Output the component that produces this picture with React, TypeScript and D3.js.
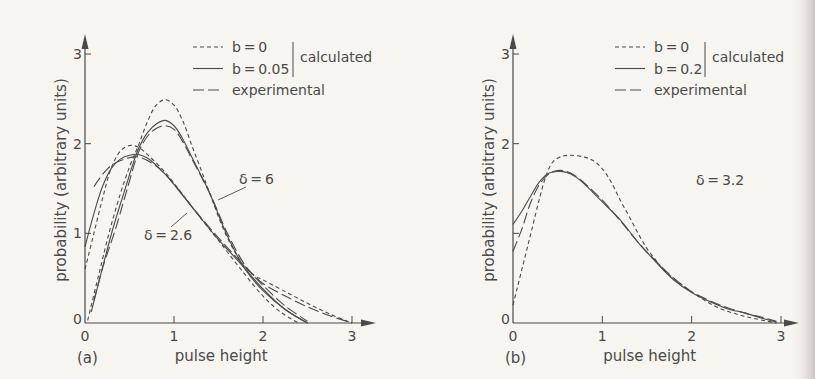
import * as d3 from 'd3'

type Pt = [number, number]

// panel (a): delta = 2.6
const a26B0: Pt[] = [[0, 0.6], [0.1, 1.0], [0.2, 1.4], [0.3, 1.74], [0.4, 1.92], [0.5, 1.98], [0.6, 1.96], [0.7, 1.88], [0.9, 1.68], [1.1, 1.43], [1.3, 1.17], [1.5, 0.92], [1.75, 0.6], [2.0, 0.3], [2.2, 0.12], [2.4, 0.0]]
const a26B005: Pt[] = [[0, 0.85], [0.1, 1.22], [0.2, 1.53], [0.3, 1.73], [0.4, 1.83], [0.5, 1.87], [0.6, 1.88], [0.7, 1.84], [0.9, 1.66], [1.1, 1.42], [1.3, 1.17], [1.5, 0.93], [1.75, 0.66], [2.0, 0.38], [2.25, 0.15], [2.5, 0.0]]
const a26Exp: Pt[] = [[0.1, 1.52], [0.2, 1.66], [0.3, 1.76], [0.45, 1.83], [0.6, 1.85], [0.8, 1.75], [1.0, 1.55], [1.2, 1.3], [1.5, 0.95], [1.75, 0.68], [2.0, 0.42], [2.25, 0.19], [2.5, 0.02]]
// panel (a): delta = 6
const a6B0: Pt[] = [[0.03, 0.03], [0.15, 0.52], [0.28, 1.04], [0.4, 1.45], [0.5, 1.74], [0.6, 1.98], [0.7, 2.24], [0.8, 2.43], [0.9, 2.49], [1.0, 2.43], [1.1, 2.25], [1.2, 1.98], [1.3, 1.72], [1.4, 1.45], [1.6, 0.95], [1.8, 0.62], [1.9, 0.53], [2.0, 0.48], [2.25, 0.35], [2.5, 0.22], [2.75, 0.1], [3.0, 0.0]]
const a6B005: Pt[] = [[0.07, 0.12], [0.31, 1.04], [0.44, 1.46], [0.6, 1.94], [0.7, 2.12], [0.8, 2.22], [0.9, 2.26], [1.0, 2.2], [1.1, 2.05], [1.2, 1.85], [1.4, 1.45], [1.6, 0.97], [1.8, 0.6], [2.0, 0.36], [2.25, 0.15], [2.5, 0.0]]
const a6Exp: Pt[] = [[0.1, 0.25], [0.2, 0.62], [0.34, 1.04], [0.47, 1.48], [0.6, 1.9], [0.7, 2.08], [0.8, 2.17], [0.9, 2.2], [1.0, 2.16], [1.1, 2.02], [1.2, 1.83], [1.4, 1.45], [1.6, 1.0], [1.8, 0.64], [1.88, 0.55], [2.0, 0.44], [2.25, 0.3], [2.5, 0.18], [2.75, 0.08], [3.0, 0.0]]
// panel (b): delta = 3.2
const bB0: Pt[] = [[0, 0.2], [0.1, 0.6], [0.2, 1.0], [0.3, 1.4], [0.38, 1.67], [0.45, 1.8], [0.55, 1.86], [0.65, 1.87], [0.8, 1.85], [0.9, 1.81], [1.0, 1.72], [1.1, 1.57], [1.2, 1.37], [1.3, 1.19], [1.4, 1.0], [1.5, 0.83], [1.6, 0.7], [1.7, 0.58], [1.9, 0.42], [2.1, 0.28], [2.3, 0.17], [2.5, 0.1], [2.7, 0.05], [2.95, 0.0]]
const bB02: Pt[] = [[0, 1.1], [0.1, 1.25], [0.2, 1.42], [0.3, 1.58], [0.4, 1.67], [0.5, 1.69], [0.6, 1.68], [0.7, 1.63], [0.8, 1.55], [0.9, 1.45], [1.0, 1.35], [1.2, 1.15], [1.4, 0.9], [1.6, 0.68], [1.8, 0.48], [2.0, 0.34], [2.2, 0.24], [2.4, 0.16], [2.6, 0.11], [2.8, 0.05], [2.95, 0.01]]
const bExp: Pt[] = [[0, 0.8], [0.1, 1.05], [0.2, 1.35], [0.3, 1.55], [0.4, 1.66], [0.5, 1.7], [0.6, 1.69], [0.7, 1.64], [1.0, 1.37], [1.2, 1.14], [1.4, 0.9], [1.6, 0.69], [1.8, 0.5], [2.0, 0.35], [2.2, 0.25], [2.4, 0.17], [2.6, 0.11], [2.8, 0.06], [2.95, 0.02]]

const xTicks = [0, 1, 2, 3]
const yTicks = [0, 1, 2, 3]
const yTickLabelsA = ['0', '1', '2', '3']
const yTickLabelsB = ['0', '', '2', '3']

const INK = '#4a4a4a'
const FONT = 'DejaVu Sans'
const SHORT = '4,3'
const LONG = '11,4'

interface Curve { pts: Pt[]; dash: string | null }

interface PanelProps {
  x0: number
  x3: number
  arrowX: number
  curves: Curve[]
  tickLabels: string[]
  tag: string
  legendB: string
  legendX: number
  barX: number
  delta: { text: string; x: number; y: number; lead?: [number, number, number, number] }[]
}

function Panel({ x0, x3, arrowX, curves, tickLabels, tag, legendB, legendX, barX, delta }: PanelProps) {
  const x = d3.scaleLinear().domain([0, 3]).range([x0, x3])
  const y = d3.scaleLinear().domain([0, 3]).range([323, 54])
  const line = d3.line<Pt>().x(d => x(d[0])).y(d => y(d[1])).curve(d3.curveCatmullRom.alpha(0.5))
  const lx = legendX
  const legendRows: { dash: string | null; label: string }[] = [
    { dash: SHORT, label: 'b\u2009=\u20090' },
    { dash: null, label: legendB },
    { dash: LONG, label: 'experimental' },
  ]
  return (
    <g fontFamily={FONT} fill={INK}>
      {/* axes */}
      <line x1={x0} x2={x0} y1={323} y2={44} stroke={INK} strokeWidth={1.2} />
      <path d={`M${x0},34 L${x0 - 3.5},49 L${x0 + 3.5},49 Z`} fill={INK} />
      <line x1={x0} x2={arrowX - 10} y1={323} y2={323} stroke={INK} strokeWidth={1.2} />
      <path d={`M${arrowX},323 L${arrowX - 15},319.5 L${arrowX - 15},326.5 Z`} fill={INK} />
      {yTicks.map((t, i) => (
        <g key={`y${t}`}>
          {t > 0 && <line x1={x0} x2={x0 + 6} y1={y(t)} y2={y(t)} stroke={INK} strokeWidth={1} />}
          <text x={x0 - 3} y={y(t) + (t === 0 ? 1 : 5)} fontSize={14} textAnchor="end">{tickLabels[i]}</text>
        </g>
      ))}
      {xTicks.map(t => (
        <g key={`x${t}`}>
          {t > 0 && <line x1={x(t)} x2={x(t)} y1={323} y2={316} stroke={INK} strokeWidth={1} />}
          <text x={x(t)} y={341} fontSize={14} textAnchor="middle">{t}</text>
        </g>
      ))}
      <text transform={`translate(${x0 - 19},180) rotate(-90)`} fontSize={15} textAnchor="middle">probability (arbitrary units)</text>
      <text x={x(1.53)} y={361} fontSize={15} textAnchor="middle">pulse height</text>
      <text x={x0 - 8} y={363} fontSize={15}>{tag}</text>

      {/* curves */}
      {curves.map((c, i) => (
        <path key={i} d={line(c.pts) ?? ''} fill="none" stroke={INK} strokeWidth={1.1}
          strokeDasharray={c.dash ?? undefined} />
      ))}

      {/* delta labels */}
      {delta.map(d => (
        <g key={d.text}>
          <text x={d.x} y={d.y} fontSize={14}>{d.text}</text>
          {d.lead && <line x1={d.lead[0]} y1={d.lead[1]} x2={d.lead[2]} y2={d.lead[3]} stroke={INK} strokeWidth={0.9} />}
        </g>
      ))}

      {/* legend */}
      {legendRows.map((r, i) => (
        <g key={r.label}>
          <line x1={lx} x2={lx + 30} y1={47 + i * 21.5} y2={47 + i * 21.5} stroke={INK} strokeWidth={1.1}
            strokeDasharray={r.dash ?? undefined} />
          <text x={lx + 39} y={52 + i * 21.5} fontSize={14}>{r.label}</text>
        </g>
      ))}
      <line x1={barX} x2={barX} y1={42} y2={77} stroke={INK} strokeWidth={1} />
      <text x={barX + 7} y={62} fontSize={14}>calculated</text>
    </g>
  )
}

export default function App() {
  return (
    <svg width={815} height={379} style={{ position: 'fixed', left: 0, top: 0 }}>
      <defs>
        <linearGradient id="shade" x1="0" x2="1" y1="0" y2="0">
          <stop offset="0" stopColor="#f6f4ee" stopOpacity={0} />
          <stop offset="1" stopColor="#c9c6c0" />
        </linearGradient>
      </defs>
      <rect width={815} height={379} fill="#f7f5f0" />
      <rect x={790} width={25} height={379} fill="url(#shade)" />
      <Panel x0={85} x3={352} arrowX={376} tag="(a)" legendB={'b\u2009=\u20090.05'} legendX={193} barX={293}
        tickLabels={yTickLabelsA}
        curves={[
          { pts: a26B0, dash: SHORT }, { pts: a26B005, dash: null }, { pts: a26Exp, dash: LONG },
          { pts: a6B0, dash: SHORT }, { pts: a6B005, dash: null }, { pts: a6Exp, dash: LONG },
        ]}
        delta={[
          { text: 'δ\u2009=\u20096', x: 239, y: 184, lead: [246, 187, 218, 200] },
          { text: 'δ\u2009=\u20092.6', x: 144, y: 240, lead: [187, 213, 171, 227] },
        ]} />
      <Panel x0={513} x3={781} arrowX={799} tag="(b)" legendB={'b\u2009=\u20090.2'} legendX={615} barX={705}
        tickLabels={yTickLabelsB}
        curves={[{ pts: bB0, dash: SHORT }, { pts: bB02, dash: null }, { pts: bExp, dash: LONG }]}
        delta={[{ text: 'δ\u2009=\u20093.2', x: 696, y: 185 }]} />
    </svg>
  )
}
